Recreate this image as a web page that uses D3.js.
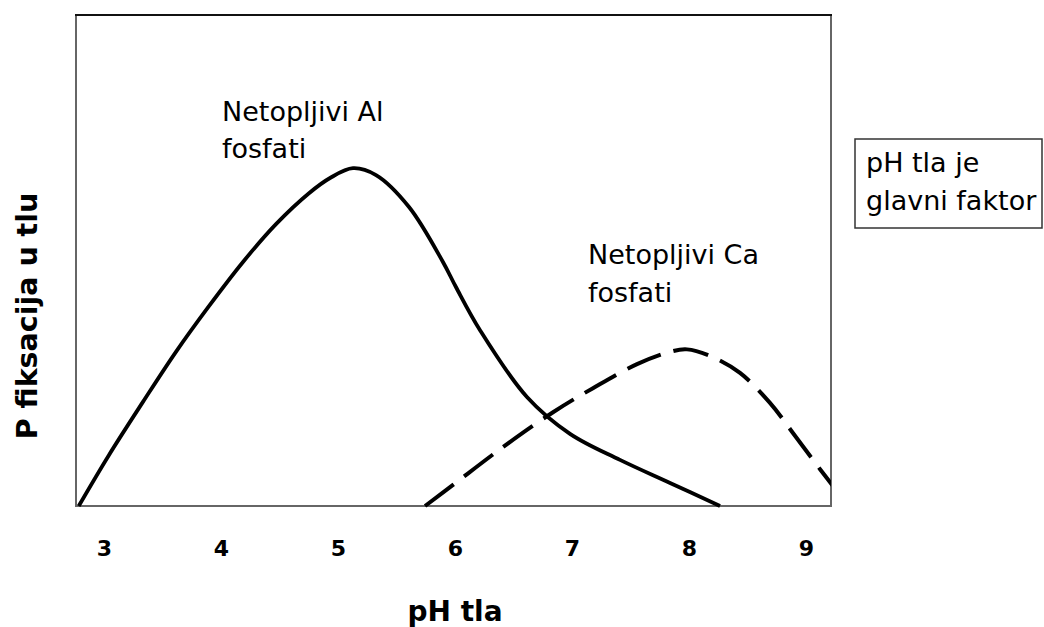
<!DOCTYPE html>
<html><head><meta charset="utf-8">
<script src="https://cdn.jsdelivr.net/npm/d3@7"></script>
<style>body{margin:0;background:#fff}svg{display:block}</style>
</head><body>
<svg id="c" width="1044" height="627"></svg>
<script>
// Data
const xTicks = [3, 4, 5, 6, 7, 8, 9];
const alPH = [2.784, 3.043, 3.333, 3.615, 3.897, 4.188, 4.470, 4.752, 4.932, 5.128, 5.325, 5.607, 5.897, 6.008, 6.214, 6.615, 6.983, 7.410, 7.838, 8.265];
const alVal = [0, 10.4, 21.2, 31.4, 40.7, 49.7, 57.4, 63.7, 66.8, 68.8, 67.4, 60.9, 49.7, 44.6, 35.8, 22.2, 14.7, 9.4, 4.7, 0];
const caPH = [5.744, 5.983, 6.410, 6.838, 7.179, 7.556, 7.838, 7.983, 8.205, 8.436, 8.692, 8.906, 9.120, 9.291];
const caVal = [0, 4.3, 12.0, 19.1, 24.0, 28.9, 31.4, 31.9, 30.3, 27.1, 21.0, 14.3, 7.5, 2.2];
const labelAl = ["Netopljivi Al", "fosfati"];
const labelCa = ["Netopljivi Ca", "fosfati"];
const boxText = ["pH tla je", "glavni faktor"];
const xTitle = "pH tla";
const yTitle = "P fiksacija u tlu";

const svg = d3.select("#c");
const L = 76, T = 15, R = 831, B = 506;
const x = d3.scaleLinear().domain([3, 9]).range([104, 806]);
const y = d3.scaleLinear().domain([0, 100]).range([B, T]);
const FONT = "DejaVu Sans, Verdana, sans-serif";

svg.append("defs").append("clipPath").attr("id", "clip")
  .append("rect").attr("x", L).attr("y", T - 2).attr("width", R - L).attr("height", B - T + 4);

// frame
svg.append("rect").attr("x", L).attr("y", T).attr("width", R - L).attr("height", B - T)
  .attr("fill", "none").attr("stroke", "#666").attr("stroke-width", 2);
svg.append("line").attr("x1", L - 1).attr("x2", R + 1).attr("y1", T).attr("y2", T)
  .attr("stroke", "#111").attr("stroke-width", 2);

// x tick labels
const xAxis = d3.axisBottom(x).tickValues(xTicks).tickSize(0).tickPadding(0).tickFormat(d3.format("d"));
const gx = svg.append("g").attr("transform", `translate(0,${B})`).call(xAxis);
gx.select(".domain").remove();
gx.attr("font-size", null).attr("font-family", null);
gx.selectAll("text").attr("dy", null).attr("y", 50)
  .style("font-family", FONT).style("font-weight", "bold").style("font-size", "22px").attr("fill", "#000");

const line = d3.line().curve(d3.curveCatmullRom.alpha(0.5)).x(d => x(d[0])).y(d => y(d[1]));
const g = svg.append("g").attr("clip-path", "url(#clip)");
g.append("path").datum(alPH.map((p, i) => [p, alVal[i]])).attr("d", line)
  .attr("fill", "none").attr("stroke", "#000").attr("stroke-width", 3.8);
g.append("path").datum(caPH.map((p, i) => [p, caVal[i]])).attr("d", line)
  .attr("fill", "none").attr("stroke", "#000").attr("stroke-width", 4)
  .attr("stroke-dasharray", "36,13");

// annotations
function multi(lines, px, py, lh) {
  const t = svg.append("text").attr("x", px).attr("y", py)
    .style("font-family", FONT).style("font-size", "27px").attr("fill", "#000");
  lines.forEach((s, i) => t.append("tspan").attr("x", px).attr("dy", i === 0 ? 0 : lh).text(s));
}
multi(labelAl, 222, 121, 37);
multi(labelCa, 588, 264, 38);

// box
svg.append("rect").attr("x", 855).attr("y", 139).attr("width", 187).attr("height", 89)
  .attr("fill", "#fff").attr("stroke", "#333").attr("stroke-width", 1.5);
multi(boxText, 866, 172, 38);

// titles
svg.append("text").attr("x", 455).attr("y", 621).attr("text-anchor", "middle")
  .style("font-family", FONT).style("font-weight", "bold")
  .style("font-size", "28px").text(xTitle);
svg.append("text").attr("transform", `translate(37,316) rotate(-90)`)
  .attr("text-anchor", "middle")
  .style("font-family", FONT).style("font-weight", "bold")
  .style("font-size", "28.5px").text(yTitle);
</script>
</body></html>
